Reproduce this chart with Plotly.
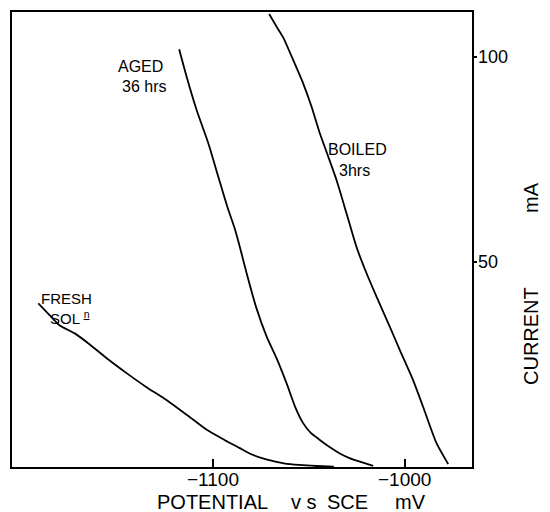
import plotly.graph_objects as go

# Data (potential mV vs SCE, current mA)
fresh_x = [-1191, -1185, -1180, -1172, -1165, -1155, -1145, -1135, -1124, -1113, -1103, -1094, -1086,
           -1080, -1074, -1068, -1063, -1055, -1046, -1037]
fresh_y = [39.9, 37.0, 34.6, 32.6, 30.2, 26.4, 22.9, 19.6, 16.3, 12.5, 9.0, 6.6, 4.6,
           3.1, 2.1, 1.4, 0.9, 0.5, 0.25, 0.1]

aged_x = [-1117.6, -1113.7, -1108.5, -1102.4, -1097.2, -1092.5, -1088.8, -1085.7, -1082.4,
          -1077.5, -1072.0, -1066.8, -1061.6, -1057.0, -1053.0, -1049.0, -1044.3, -1039.0,
          -1033.9, -1028.5, -1023.4, -1016.5]
aged_y = [101.9, 95.2, 87.1, 79.0, 70.8, 63.5, 58.4, 53.2, 47.2,
          39.0, 31.8, 26.5, 20.4, 14.5, 10.7, 8.3, 6.6, 4.8,
          3.3, 2.1, 1.3, 0.25]

boiled_x = [-1070.7, -1066.8, -1063.4, -1058.2, -1053.0, -1048.6, -1044.3, -1039.9, -1035.6,
            -1030.4, -1025.2, -1019.9, -1014.7, -1007.8, -1002.6, -995.7, -990.5, -983.5, -977.4]
boiled_y = [110.5, 107.4, 104.8, 99.3, 93.6, 87.9, 81.4, 75.7, 70.0,
            61.9, 53.7, 47.2, 41.5, 34.2, 28.5, 21.2, 14.7, 5.8, 0.7]

x_ticks = [-1100, -1000]
x_tick_labels = ["\u22121100", "\u22121000"]
y_ticks = [50, 100]
y_tick_labels = ["50", "100"]

FONT = "Liberation Sans, Arial, Helvetica, sans-serif"

# the page body adds an 8 px margin, so figure pixel = picture pixel - 8
OFF = 8
W, H = 550, 512
L, R, T, B = 12 - OFF, 472 - OFF, 12 - OFF, 467 - OFF

def px(xp):
    return (xp - OFF - L) / (R - L)

def py(yp):
    return (B - (yp - OFF)) / (B - T)

fig = go.Figure()
for xs, ys in [(fresh_x, fresh_y), (aged_x, aged_y), (boiled_x, boiled_y)]:
    fig.add_trace(go.Scatter(x=xs, y=ys, mode="lines",
                             line=dict(color="black", width=1.8, shape="spline", smoothing=0.6),
                             showlegend=False, hoverinfo="skip"))

# curve labels (data coordinates)
labels = [
    ("AGED", -1137.5, 97.8, 16), ("36 hrs", -1135.7, 92.8, 16),
    ("BOILED", -1024.5, 77.4, 16), ("3hrs", -1026.0, 72.4, 16),
    ("FRESH", -1176.5, 41.0, 15), ("SOL <sup><u>n</u></sup>", -1174.5, 36.4, 15),
]
for txt, x, y, s in labels:
    fig.add_annotation(x=x, y=y, xref="x", yref="y", text=txt, showarrow=False,
                       xanchor="center", yanchor="middle",
                       font=dict(family=FONT, size=s, color="black"))

# x tick labels, placed under the axis at the tick values
for v, t in zip(x_ticks, x_tick_labels):
    fig.add_annotation(x=v, xref="x", y=py(480), yref="paper", text=t, showarrow=False,
                       xanchor="center", yanchor="middle",
                       font=dict(family=FONT, size=19, color="black"))

# y tick labels, just right of the axis at the tick values
for v, t in zip(y_ticks, y_tick_labels):
    fig.add_annotation(y=v, yref="y", x=px(476), xref="paper", text=t, showarrow=False,
                       xanchor="left", yanchor="middle",
                       font=dict(family=FONT, size=18, color="black"))

# x-axis title pieces (picture pixel centres)
for txt, xc in [("POTENTIAL", 212), ("v s", 304), ("SCE", 347), ("mV", 410)]:
    fig.add_annotation(xref="paper", yref="paper", x=px(xc), y=py(502), text=txt,
                       showarrow=False, yanchor="middle", xanchor="center",
                       font=dict(family=FONT, size=20, color="black"))

fig.add_annotation(xref="paper", yref="paper", x=px(531), y=py(336),
                   text="CURRENT", textangle=-90, showarrow=False,
                   xanchor="center", yanchor="middle",
                   font=dict(family=FONT, size=20, color="black"))
fig.add_annotation(xref="paper", yref="paper", x=px(531), y=py(198),
                   text="mA", textangle=-90, showarrow=False,
                   xanchor="center", yanchor="middle",
                   font=dict(family=FONT, size=20, color="black"))

fig.update_layout(
    width=W, height=H,
    margin=dict(l=L, r=W - R, t=T, b=H - B, autoexpand=False),
    paper_bgcolor="white", plot_bgcolor="white",
    font=dict(family=FONT, color="black"),
    xaxis=dict(range=[-1204.7, -965], tickvals=x_ticks, showticklabels=False,
               ticks="inside", ticklen=8, tickwidth=1.5, tickcolor="black",
               showline=True, linecolor="black", linewidth=1.5, mirror=True,
               showgrid=False, zeroline=False, automargin=False),
    yaxis=dict(range=[0, 111], side="right", tickvals=y_ticks, showticklabels=False,
               ticks="outside", ticklen=3, tickwidth=1.5, tickcolor="black",
               showline=True, linecolor="black", linewidth=1.5, mirror=True,
               showgrid=False, zeroline=False, automargin=False),
)

fig.write_html("out.html")
